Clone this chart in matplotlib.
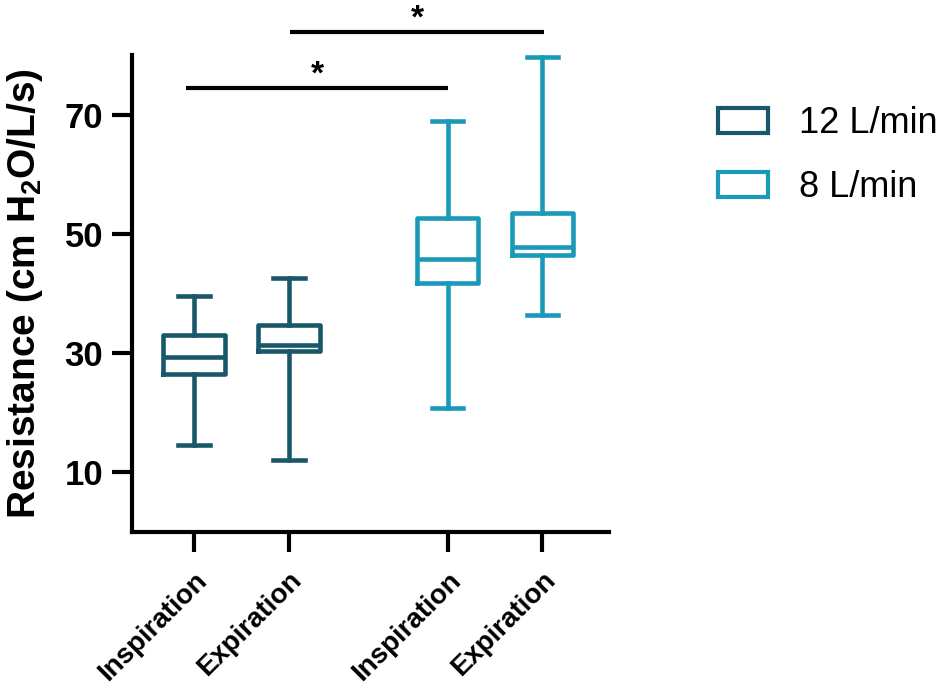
import numpy as np
import matplotlib
matplotlib.use("Agg")
import matplotlib.pyplot as plt
from matplotlib.patches import Patch

plt.rcParams['font.family'] = 'Liberation Sans'
plt.rcParams['mathtext.fontset'] = 'custom'
plt.rcParams['mathtext.bf'] = 'Liberation Sans:bold'
plt.rcParams['mathtext.rm'] = 'Liberation Sans'

# box statistics
labels = ["Inspiration", "Expiration", "Inspiration", "Expiration"]
groups = ["12 L/min", "12 L/min", "8 L/min", "8 L/min"]
whis_lo = [14.5, 12.0, 20.8, 36.3]
q1 = [26.4, 30.3, 41.7, 46.5]
med = [29.4, 31.4, 45.8, 47.8]
q3 = [33.0, 34.7, 52.6, 53.5]
whis_hi = [39.5, 42.6, 68.9, 79.6]
positions = [0, 1, 2.67, 3.67]

colors = {"12 L/min": "#19586b", "8 L/min": "#1a9ab8"}

fig = plt.figure(figsize=(9.5, 6.9), dpi=100)
ax = fig.add_axes([0.1386, 0.2294, 0.5024, 0.6909])

for i in range(len(labels)):
    st = [dict(med=med[i], q1=q1[i], q3=q3[i], whislo=whis_lo[i], whishi=whis_hi[i], fliers=[])]
    c = colors[groups[i]]
    lw = 3.3
    ax.bxp(st, positions=[positions[i]], widths=0.65, capwidths=0.33, showfliers=False,
           boxprops=dict(color=c, linewidth=lw),
           medianprops=dict(color=c, linewidth=lw),
           whiskerprops=dict(color=c, linewidth=lw),
           capprops=dict(color=c, linewidth=lw))

ax.set_xlim(-0.656, 4.37)
ax.set_ylim(0, 80)
ax.set_yticks([10, 30, 50, 70])
ax.set_xticks(positions)
ax.set_xticklabels(labels, rotation=45, ha='right', rotation_mode='anchor', fontweight='bold', fontsize=20)
for t in ax.get_yticklabels():
    t.set_fontweight('bold')
    t.set_fontsize(25)
ax.tick_params(axis='both', width=3, length=14.5, color='black')
ax.tick_params(axis='x', pad=11)
ax.tick_params(axis='y', pad=6)
for s in ['top', 'right']:
    ax.spines[s].set_visible(False)
for s in ['left', 'bottom']:
    ax.spines[s].set_linewidth(3)
ax.set_ylabel(r'Resistance (cm H$_\mathbf{2}$O/L/s)', fontsize=28, fontweight='bold', labelpad=14)

# significance bars
ax.plot([-0.08, 2.67], [74.5, 74.5], color='black', lw=3, clip_on=False, solid_capstyle='butt')
ax.text(1.3, 75.2, '*', fontsize=24, fontweight='bold', ha='center', va='baseline')
ax.plot([1.01, 3.69], [83.9, 83.9], color='black', lw=3, clip_on=False, solid_capstyle='butt')
ax.text(2.35, 84.6, '*', fontsize=24, fontweight='bold', ha='center', va='baseline', clip_on=False)

handles = [Patch(facecolor='white', edgecolor=colors[g], linewidth=3, label=g) for g in ["12 L/min", "8 L/min"]]
fig.legend(handles=handles, loc='upper left', bbox_to_anchor=(0.722, 0.893), frameon=False,
           fontsize=26, handlelength=1.36, handleheight=0.66, labelspacing=0.8, handletextpad=0.86)

fig.savefig('out.png', dpi=100)
